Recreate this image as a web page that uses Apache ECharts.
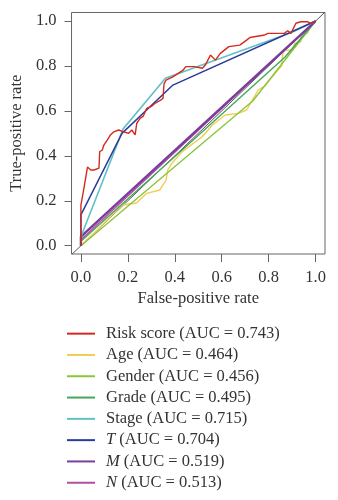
<!DOCTYPE html>
<html><head><meta charset="utf-8">
<script src="https://cdn.jsdelivr.net/npm/echarts@6/dist/echarts.min.js"></script>
<style>html,body{margin:0;padding:0;background:#fff}#c{width:338px;height:500px}</style>
</head><body><div id="c"></div>
<script>
// ROC curves: [false-positive rate, true-positive rate]
const riskScore = [[0,0],[0,0.18],[0.007,0.18],[0.014,0.263],[0.021,0.263],[0.028,0.35],[0.042,0.337],[0.056,0.337],[0.063,0.33],[0.077,0.345],[0.08,0.418],[0.091,0.426],[0.098,0.448],[0.105,0.456],[0.112,0.47],[0.119,0.473],[0.126,0.493],[0.14,0.507],[0.161,0.515],[0.182,0.507],[0.203,0.5],[0.217,0.515],[0.231,0.493],[0.238,0.545],[0.252,0.567],[0.266,0.577],[0.28,0.611],[0.3,0.62],[0.315,0.633],[0.34,0.648],[0.35,0.656],[0.354,0.72],[0.363,0.737],[0.378,0.745],[0.39,0.75],[0.434,0.78],[0.447,0.797],[0.483,0.797],[0.518,0.79],[0.53,0.804],[0.552,0.849],[0.573,0.826],[0.594,0.856],[0.63,0.886],[0.677,0.893],[0.706,0.915],[0.72,0.927],[0.783,0.938],[0.797,0.945],[0.825,0.945],[0.867,0.945],[0.881,0.957],[0.895,0.945],[0.916,0.99],[0.937,0.997],[0.965,0.997],[0.979,0.99],[1,1]];
const age = [[0,0],[0.03,0.03],[0.175,0.18],[0.237,0.19],[0.28,0.233],[0.336,0.248],[0.363,0.292],[0.37,0.337],[0.39,0.37],[0.433,0.42],[0.517,0.485],[0.56,0.537],[0.615,0.582],[0.671,0.589],[0.706,0.604],[0.727,0.641],[0.755,0.693],[0.783,0.71],[0.804,0.737],[0.839,0.782],[0.855,0.8],[0.862,0.87],[0.902,0.871],[0.91,0.9],[0.937,0.908],[0.94,0.94],[0.965,0.945],[0.979,0.98],[1,1]];
const gender = [[0,0],[0.733,0.645],[1,1]];
const grade = [[0,0],[0,0.02],[0.87,0.84],[1,1]];
const stage = [[0,0],[0,0.04],[0.18,0.52],[0.36,0.745],[0.9,0.95],[1,1]];
const tStage = [[0,0],[0,0.137],[0.175,0.5],[0.392,0.715],[1,1]];
const mStage = [[0,0],[0,0.04],[1,1]];
const nStage = [[0,0],[0,0.026],[1,1]];
const refLine = [[-0.04,-0.04],[1.04,1.04]];
const seriesNames = ['Risk score','Age','Gender','Grade','Stage','T','M','N'];
const aucValues = ['0.743','0.464','0.456','0.495','0.715','0.704','0.519','0.513'];
const tickValues = [0,0.2,0.4,0.6,0.8,1.0];
const colors = ['#d32a1f','#f2cc55','#8cc43c','#44a85a','#62c0c6','#2b3c9c','#7b3d9e','#b14f9f'];
const widths = [1.4,1.4,1.4,1.4,1.6,1.5,2.4,1.4];
const dataSets = [riskScore,age,gender,grade,stage,tStage,mStage,nStage];

const FONT = '"Liberation Serif","DejaVu Serif",serif';
const FS = 16.5;
const chart = echarts.init(document.getElementById('c'), null, {renderer:'canvas'});
const drawOrder = [1,2,3,7,6,4,5,0];
const series = [{
  type:'line', name:'ref', data:refLine, symbol:'none', silent:true,
  lineStyle:{color:'#555', width:1}, z:1
}];
drawOrder.forEach(i=>{
  series.push({type:'line', name:seriesNames[i], data:dataSets[i], symbol:'none',
    lineStyle:{color:colors[i], width:widths[i]}, itemStyle:{color:colors[i]}, z:2});
});
const italic = new Set(['T','M','N']);
chart.setOption({
  animation:false,
  grid:{left:67,right:13,top:12.5,bottom:246,show:true,borderColor:'#666',borderWidth:1,containLabel:false},
  xAxis:{type:'value',min:-0.04,max:1.04,
    name:'False-positive rate',nameLocation:'middle',nameGap:36,
    nameTextStyle:{fontFamily:FONT,fontSize:FS,color:'#333'},
    axisLine:{show:false,onZero:false},splitLine:{show:false},
    axisTick:{show:true,length:8,customValues:tickValues,lineStyle:{color:'#666'}},
    axisLabel:{customValues:tickValues,fontFamily:FONT,fontSize:FS,color:'#333',margin:15,formatter:v=>v.toFixed(1)}},
  yAxis:{type:'value',min:-0.037,max:1.038,
    name:'True-positive rate',nameLocation:'middle',nameGap:32,
    nameTextStyle:{fontFamily:FONT,fontSize:FS,color:'#333'},
    axisLine:{show:false,onZero:false},splitLine:{show:false},
    axisTick:{show:true,length:7,customValues:tickValues,lineStyle:{color:'#666'}},
    axisLabel:{customValues:tickValues,fontFamily:FONT,fontSize:FS,color:'#333',margin:15,formatter:v=>v.toFixed(1)}},
  legend:{data:seriesNames.map((n,i)=>({name:n,itemStyle:{color:colors[i]}})),
    orient:'vertical',left:67,top:323,padding:0,itemGap:0,
    icon:'rect',itemWidth:28,itemHeight:2,
    formatter:n=>{const i=seriesNames.indexOf(n);
      return (italic.has(n)?'{i|'+n+'}':'{r|'+n+'}')+'{r| (AUC = '+aucValues[i]+')}';},
    textStyle:{fontFamily:FONT,fontSize:FS,color:'#333',lineHeight:21.3,padding:[0,0,0,6],
      rich:{r:{fontFamily:FONT,fontSize:FS,color:'#333',lineHeight:21.3},
            i:{fontFamily:FONT,fontSize:FS,color:'#333',fontStyle:'italic',lineHeight:21.3}}}},
  series:series
});
</script></body></html>
